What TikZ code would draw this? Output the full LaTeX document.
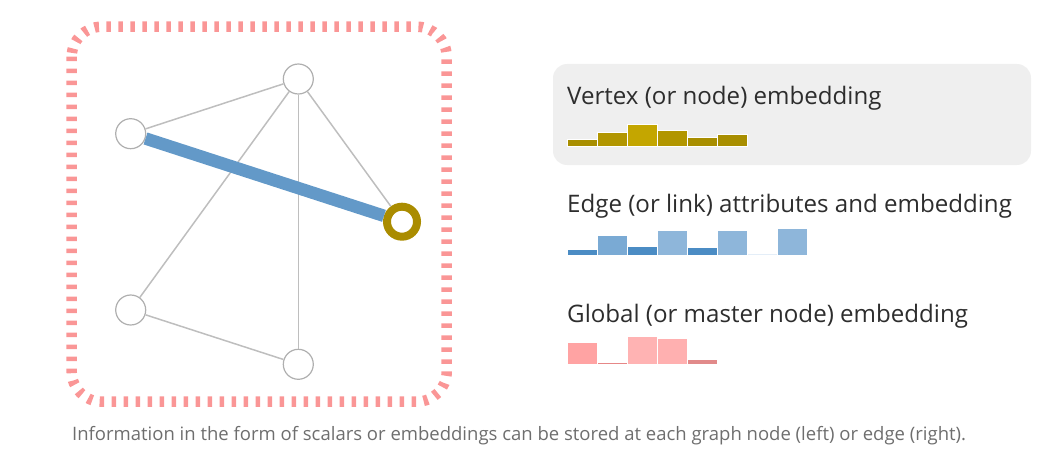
\documentclass[tikz,border=0pt]{standalone}
\usepackage{fontspec}
\setmainfont{Open Sans}
\definecolor{frame}{RGB}{250,150,150}
\definecolor{edgegray}{RGB}{190,190,190}
\definecolor{nodegray}{RGB}{175,175,175}
\definecolor{blueedge}{RGB}{99,153,200}
\definecolor{gold}{RGB}{170,140,0}
\definecolor{panel}{RGB}{239,239,239}
\definecolor{headtext}{RGB}{45,45,45}
\definecolor{captext}{RGB}{110,110,110}
\definecolor{g1}{RGB}{168,142,0}
\definecolor{g2}{RGB}{178,150,0}
\definecolor{g3}{RGB}{196,166,0}
\definecolor{bd}{RGB}{75,140,196}
\definecolor{bl}{RGB}{122,170,212}
\definecolor{bm}{RGB}{142,182,218}
\definecolor{bw}{RGB}{228,238,248}
\definecolor{p1}{RGB}{255,163,163}
\definecolor{p2}{RGB}{230,135,135}
\definecolor{p3}{RGB}{255,179,179}
\definecolor{p4}{RGB}{255,176,176}
\definecolor{p5}{RGB}{225,138,138}
\begin{document}
\begin{tikzpicture}[x=1pt,y=-1pt,
  vtx/.style={circle,draw=nodegray,line width=1.2pt,fill=white,minimum size=30pt,inner sep=0pt},
  selvtx/.style={circle,draw=gold,line width=8pt,fill=white,minimum size=30pt,inner sep=0pt},
  link/.style={draw=edgegray,line width=1.5pt},
  sellink/.style={draw=blueedge,line width=12.5pt},
  heading/.style={anchor=base west,inner sep=0pt,text=headtext,font=\fontsize{24.1}{28}\selectfont},
  caption/.style={anchor=base west,inner sep=0pt,text=captext,font=\fontsize{18.5}{22}\selectfont},
  bar/.style={draw=white,line width=1pt}]
\useasboundingbox (0,0) rectangle (1058,452);
% frame
\draw[frame,line width=10.5pt,dash pattern=on 4.5pt off 7.5pt,rounded corners=30pt] (71.7,26.7) rectangle (446.7,401.7);
% nodes
\node[vtx] (t) at (298.3,79) {};
\node[vtx] (l) at (130.7,133.7) {};
\node[selvtx] (r) at (402,221.7) {};
\node[vtx] (bl) at (130.7,310) {};
\node[vtx] (b) at (298.3,364.3) {};
% edges
\draw[link] (t) -- (l);
\draw[link] (t) -- (bl);
\draw[link] (t) -- (b);
\draw[link] (t) -- (r);
\draw[link] (bl) -- (b);
\draw[sellink] (l) -- (r);
% panel
\fill[panel,rounded corners=14pt] (553,64) rectangle (1031,165);
\node[heading] (h1) at (567,104.5) {Vertex (or node) embedding};
\node[heading] (h2) at (567,212) {Edge (or link) attributes and embedding};
\node[heading] (h3) at (567,322) {Global (or master node) embedding};
% vertex bars
\filldraw[bar,fill=g1] (567,146) rectangle (597,139);
\filldraw[bar,fill=g2] (597,146) rectangle (627,132.3);
\filldraw[bar,fill=g3] (627,146) rectangle (657,124);
\filldraw[bar,fill=g2] (657,146) rectangle (687,130.7);
\filldraw[bar,fill=g1] (687,146) rectangle (717,137.7);
\filldraw[bar,fill=g1] (717,146) rectangle (747,134);
% edge bars
\filldraw[bar,fill=bd] (567,255) rectangle (597,249.3);
\filldraw[bar,fill=bl] (597,255) rectangle (627,235.7);
\filldraw[bar,fill=bd] (627,255) rectangle (657,246.3);
\filldraw[bar,fill=bm] (657,255) rectangle (687,230.7);
\filldraw[bar,fill=bd] (687,255) rectangle (717,247);
\filldraw[bar,fill=bm] (717,255) rectangle (747,230);
\filldraw[bar,fill=bw] (747,255) rectangle (777,253.8);
\filldraw[bar,fill=bm] (777,255) rectangle (807,228.7);
% global bars
\filldraw[bar,fill=p1] (567,364) rectangle (597,342.7);
\filldraw[bar,fill=p2] (597,364) rectangle (627,362.3);
\filldraw[bar,fill=p3] (627,364) rectangle (657,336);
\filldraw[bar,fill=p4] (657,364) rectangle (687,338.7);
\filldraw[bar,fill=p5] (687,364) rectangle (717,359.3);
% caption
\node[caption] (cap) at (72,440) {Information in the form of scalars or embeddings can be stored at each graph node (left) or edge (right).};
\end{tikzpicture}
\end{document}
